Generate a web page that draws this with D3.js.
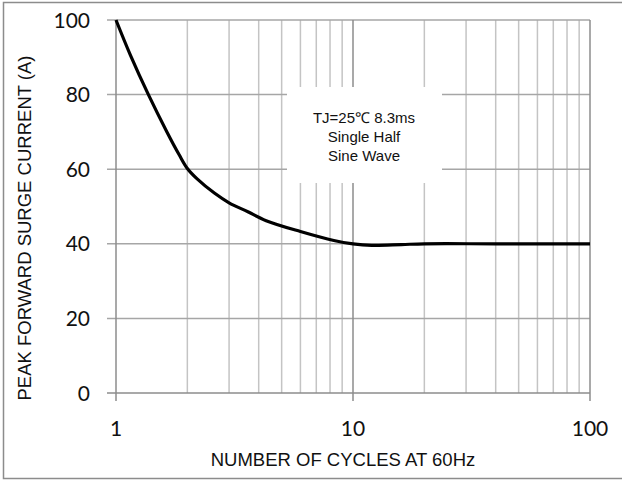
<!DOCTYPE html>
<html>
<head>
<meta charset="utf-8">
<script src="https://cdn.jsdelivr.net/npm/d3@7"></script>
<style>
  body { margin: 0; background: #fff; }
  svg { display: block; }
</style>
</head>
<body>
<div id="chart"></div>
<script>
// curve data
const cycles = [1, 1.15, 1.37, 1.64, 1.85, 2, 2.2, 2.6, 3, 3.6, 4.3, 6, 8.3, 10, 12, 16, 20, 40, 100];
const current = [100, 90.6, 80, 70, 63.8, 60.2, 57.4, 53.6, 51, 48.6, 46.2, 43.3, 40.9, 40, 39.6, 39.8, 40, 40, 40];
const yTicks = [0, 20, 40, 60, 80, 100];
const xTicks = [1, 10, 100];
const noteLines = ["TJ=25\u2103 8.3ms", "Single Half", "Sine Wave"];

const width = 622, height = 480;
const margin = { top: 20, right: 32, bottom: 87, left: 116 };

const svg = d3.select("#chart")
  .append("svg")
  .attr("width", width)
  .attr("height", height);

// outer frame
svg.append("rect")
  .attr("x", 3.5).attr("y", 2.5)
  .attr("width", 630).attr("height", 476)
  .attr("fill", "none")
  .attr("stroke", "#8c8c8c")
  .attr("stroke-width", 1.5);

const x = d3.scaleLog().domain([1, 100]).range([margin.left, width - margin.right]);
const y = d3.scaleLinear().domain([0, 100]).range([height - margin.bottom, margin.top]);

const grid = svg.append("g");

// minor vertical lines
const minor = [];
for (let d = 1; d < 100; d *= 10) {
  for (let k = 2; k <= 9; k++) minor.push(d * k);
}
grid.selectAll(".minor")
  .data(minor)
  .enter()
  .append("line")
  .attr("x1", (d) => x(d)).attr("x2", (d) => x(d))
  .attr("y1", y(100)).attr("y2", y(0))
  .attr("stroke", "#c4c4c4")
  .attr("stroke-width", 1.5);

// horizontal lines
grid.selectAll(".hline")
  .data(yTicks)
  .enter()
  .append("line")
  .attr("x1", x(1) - 9).attr("x2", x(100))
  .attr("y1", (d) => y(d)).attr("y2", (d) => y(d))
  .attr("stroke", (d) => (d === 0 ? "#8c8c8c" : "#a6a6a6"))
  .attr("stroke-width", 1.5);

// major vertical lines with ticks below
grid.selectAll(".major")
  .data(xTicks)
  .enter()
  .append("line")
  .attr("x1", (d) => x(d)).attr("x2", (d) => x(d))
  .attr("y1", y(100)).attr("y2", y(0) + 8)
  .attr("stroke", "#8c8c8c")
  .attr("stroke-width", 1.5);

// white box behind the note
svg.append("rect")
  .attr("x", 287).attr("y", 87)
  .attr("width", 155).attr("height", 96)
  .attr("fill", "#fff");

svg.append("g")
  .selectAll("text")
  .data(noteLines)
  .enter()
  .append("text")
  .attr("x", 364)
  .attr("y", (d, i) => 123 + i * 19)
  .attr("text-anchor", "middle")
  .style("font-family", "'Liberation Sans', Arial, sans-serif")
  .style("font-size", "15px")
  .attr("fill", "#111")
  .text((d) => d);

// the curve
const line = d3.line()
  .x((d, i) => x(cycles[i]))
  .y((d) => y(d))
  .curve(d3.curveCatmullRom.alpha(0.5));

svg.append("path")
  .datum(current)
  .attr("d", line)
  .attr("fill", "none")
  .attr("stroke", "#000")
  .attr("stroke-width", 3.2)
  .attr("stroke-linejoin", "round");

// tick labels
svg.append("g")
  .selectAll("text")
  .data(yTicks)
  .enter()
  .append("text")
  .attr("x", 90)
  .attr("y", (d) => y(d) + 7.5)
  .attr("text-anchor", "end")
  .style("font-family", "Lato, sans-serif")
  .style("font-size", "21px")
  .attr("fill", "#111")
  .text((d) => d);

svg.append("g")
  .selectAll("text")
  .data(xTicks)
  .enter()
  .append("text")
  .attr("x", (d) => x(d))
  .attr("y", 436)
  .attr("text-anchor", "middle")
  .style("font-family", "Lato, sans-serif")
  .style("font-size", "21px")
  .attr("fill", "#111")
  .text((d) => d);

// axis titles
svg.append("text")
  .attr("x", 343)
  .attr("y", 466)
  .attr("text-anchor", "middle")
  .style("font-family", "'Liberation Sans', Arial, sans-serif")
  .style("font-size", "18.5px")
  .attr("fill", "#111")
  .text("NUMBER OF CYCLES AT 60Hz");

svg.append("text")
  .attr("transform", "translate(31,228) rotate(-90)")
  .attr("text-anchor", "middle")
  .style("font-family", "'Liberation Sans', Arial, sans-serif")
  .style("font-size", "18.5px")
  .attr("fill", "#111")
  .text("PEAK FORWARD SURGE CURRENT (A)");
</script>
</body>
</html>
